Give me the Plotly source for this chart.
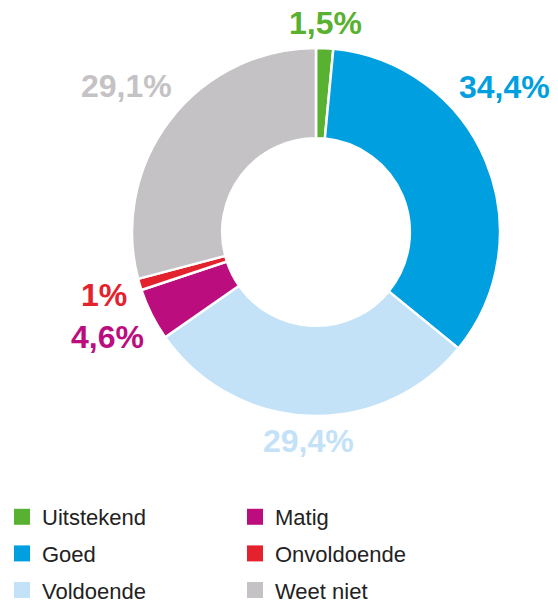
import math
import plotly.graph_objects as go

categories = ["Uitstekend", "Goed", "Voldoende", "Matig", "Onvoldoende", "Weet niet"]
values = [1.5, 34.4, 29.4, 4.6, 1.0, 29.1]
colors = ["#58B130", "#009FDF", "#C3E2F8", "#BC0D7E", "#E4222E", "#C4C2C5"]
legend_col1 = ["Uitstekend", "Goed", "Voldoende"]
legend_col2 = ["Matig", "Onvoldoende", "Weet niet"]

labels_text = [f"{v:g}".replace(".", ",") + "%" for v in values]

# ---- layout geometry (pixels) ----
W, H = 558, 604
CX, CY, R = 316, 232, 184
LABEL_SIZE = 32
GAP = 12
EDGE = 8

fig = go.Figure()
fig.add_trace(go.Pie(
    labels=categories, values=values, text=labels_text,
    textinfo="none",
    sort=False, direction="clockwise", rotation=0, hole=0.51,
    marker=dict(colors=colors, line=dict(color="white", width=2.5)),
    showlegend=False,
    domain=dict(x=[(CX - R) / W, (CX + R) / W], y=[1 - (CY + R) / H, 1 - (CY - R) / H]),
    hoverinfo="label+text",
))

# percentage labels placed outside each slice, along the slice's mid-angle
CHAR_W = {",": 0.278, "%": 0.889}
def text_width(s):
    return sum(CHAR_W.get(c, 0.556) for c in s) * LABEL_SIZE

def box_clear(xc, yc, hw, hh, rad):
    nx = min(max(CX, xc - hw), xc + hw)
    ny = min(max(CY, yc - hh), yc + hh)
    return math.hypot(nx - CX, ny - CY) >= rad

total = sum(values)
cum = 0.0
for v, txt, col in zip(values, labels_text, colors):
    theta = 2 * math.pi * (cum + v / 2) / total
    cum += v
    ux, uy = math.sin(theta), -math.cos(theta)
    hw, hh = text_width(txt) / 2, 0.36 * LABEL_SIZE
    d = R + GAP + hw * abs(ux) + hh * abs(uy)
    xc, yc = CX + d * ux, CY + d * uy
    if xc + hw > W - EDGE or xc - hw < EDGE:
        xc = min(max(xc, EDGE + hw), W - EDGE - hw)
        step = -1 if uy <= 0 else 1
        while not box_clear(xc, yc, hw, hh, R + GAP):
            yc += step
    fig.add_annotation(
        x=xc / W, y=1 - yc / H, xref="paper", yref="paper",
        text=txt, showarrow=False, xanchor="center", yanchor="middle",
        font=dict(family="Liberation Sans", size=LABEL_SIZE, color=col, weight="bold"),
    )

cmap = dict(zip(categories, colors))
for name in legend_col1 + legend_col2:
    fig.add_trace(go.Scatter(
        x=[None], y=[None], mode="markers", name=name,
        marker=dict(symbol="square", size=16, color=cmap[name]),
        legend="legend" if name in legend_col1 else "legend2",
        legendgroup=name,
    ))

leg_common = dict(
    font=dict(family="Liberation Sans", size=22, color="#222222"),
    yanchor="top", xanchor="left", y=1 - 496 / H,
    traceorder="grouped", tracegroupgap=5, bgcolor="rgba(0,0,0,0)",
    itemclick=False, itemdoubleclick=False,
)
fig.update_layout(
    width=W, height=H,
    margin=dict(l=0, r=0, t=0, b=0, autoexpand=False),
    paper_bgcolor="white", plot_bgcolor="white",
    xaxis=dict(visible=False), yaxis=dict(visible=False),
    legend=dict(x=2 / W, **leg_common),
    legend2=dict(x=235 / W, **leg_common),
)
fig.write_html("out.html")
